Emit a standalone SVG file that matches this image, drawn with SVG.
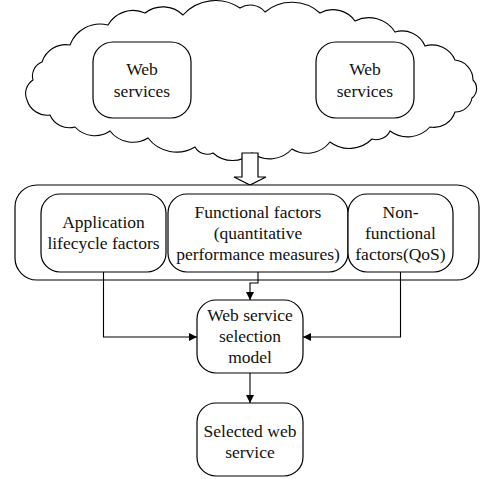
<svg xmlns="http://www.w3.org/2000/svg" width="481" height="479" viewBox="0 0 481 479">
  <defs>
    <style>
      .box { fill: #fff; stroke: #000; stroke-width: 1.2; }
      .cloud { fill: #fff; stroke: #000; stroke-width: 1.1; }
      .wire { fill: none; stroke: #000; stroke-width: 1.1; }
      text { font-family: "Liberation Serif", "Times New Roman", "DejaVu Serif", serif; font-size: 17.5px; fill: #111; text-anchor: middle; }
    </style>
    <marker id="arrow" viewBox="0 0 10 10" refX="10" refY="5" markerWidth="8" markerHeight="8" markerUnits="userSpaceOnUse" orient="auto">
      <path d="M0,0 L10,5 L0,10 z" fill="#000"/>
    </marker>
  </defs>
  <rect width="481" height="479" fill="#fff"/>

  <!-- service cloud: chain of outward arcs -->
  <g id="cloud">
    <path class="cloud" d="M27,100
      A16,16 0 0 1 33,80 A15,15 0 0 1 42,62 A25,25 0 0 1 70,45 A32,32 0 0 1 108,25
      A29,29 0 0 1 145,13 A29,29 0 0 1 183,15 A44,44 0 0 1 240,8 A19,19 0 0 1 265,12
      A42,42 0 0 1 320,13 A27,27 0 0 1 355,21 A31,31 0 0 1 395,32 A25,25 0 0 1 425,46
      A25,25 0 0 1 455,60 A20,20 0 0 1 473,80 A12,12 0 0 1 472,98 A17,17 0 0 1 455,112
      A22,22 0 0 1 430,127 A30,30 0 0 1 390,131 A15,15 0 0 1 372,139 A32,32 0 0 1 330,142
      A29,29 0 0 1 292,149 A30,30 0 0 1 252,153 A29,29 0 0 1 213,153 A14,14 0 0 1 195,147
      A36,36 0 0 1 148,138 A29,29 0 0 1 110,131 A27,27 0 0 1 75,127 A21,21 0 0 1 50,115
      A21,21 0 0 1 27,100 Z"/>
  </g>

  <g id="ws-left">
    <rect class="box" x="93" y="42" width="98" height="76" rx="20"/>
    <text x="142" y="75">Web</text>
    <text x="142" y="97">services</text>
  </g>
  <g id="ws-right">
    <rect class="box" x="316" y="42" width="98" height="76" rx="20"/>
    <text x="365" y="75">Web</text>
    <text x="365" y="97">services</text>
  </g>

  <!-- hollow block arrow from cloud to factors -->
  <g id="block-arrow">
    <polygon class="box" points="242,153 258,153 258,177 266,177 250,185 234,177 242,177"/>
  </g>

  <g id="factors">
    <rect class="box" x="15" y="185" width="464" height="95" rx="22"/>
  </g>
  <g id="app-factors">
    <rect class="box" x="41" y="194" width="125" height="78" rx="19"/>
    <text x="103.5" y="228">Application</text>
    <text x="103.5" y="249">lifecycle factors</text>
  </g>
  <g id="func-factors">
    <rect class="box" x="168" y="194" width="180" height="78" rx="19"/>
    <text x="258" y="218">Functional factors</text>
    <text x="258" y="239">(quantitative</text>
    <text x="258" y="260">performance measures)</text>
  </g>
  <g id="nonfunc-factors">
    <rect class="box" x="348" y="194" width="105" height="78" rx="19"/>
    <text x="400.5" y="218">Non-</text>
    <text x="400.5" y="239">functional</text>
    <text x="400.5" y="260">factors(QoS)</text>
  </g>

  <g id="model">
    <rect class="box" x="197" y="300" width="106" height="73" rx="19"/>
    <text x="250" y="321">Web service</text>
    <text x="250" y="342">selection</text>
    <text x="250" y="363">model</text>
  </g>

  <g id="selected">
    <rect class="box" x="197" y="403" width="106" height="73" rx="19"/>
    <text x="250" y="437">Selected web</text>
    <text x="250" y="458">service</text>
  </g>

  <g id="connectors">
    <polyline class="wire" points="103.5,272 103.5,337 197,337" marker-end="url(#arrow)"/>
    <polyline class="wire" points="400.5,272 400.5,337 303,337" marker-end="url(#arrow)"/>
    <polyline class="wire" points="258,272 258,283 250,283 250,300" marker-end="url(#arrow)"/>
    <line class="wire" x1="250" y1="373" x2="250" y2="403" marker-end="url(#arrow)"/>
  </g>
</svg>
